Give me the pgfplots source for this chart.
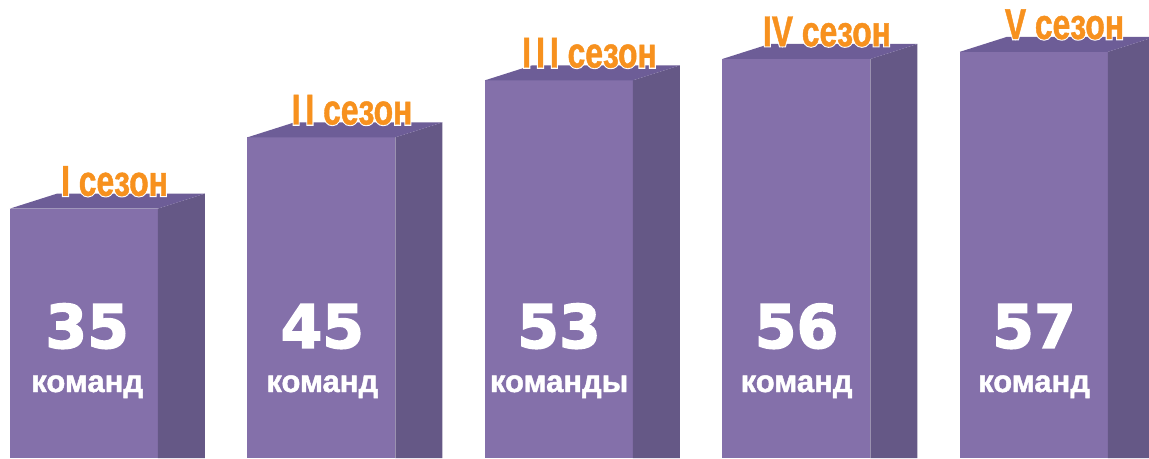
\documentclass[border=0pt]{standalone}
\usepackage{pgfplots}
\pgfplotsset{compat=1.18}
\usepackage{fontspec}
\setmainfont{DejaVu Sans}
\newfontfamily\numfont{DejaVu Sans}[UprightFont={* Bold}, FakeBold=2.5]
\newfontfamily\wordfont{Liberation Sans}[UprightFont={* Bold}, FakeBold=1.5]
\newfontfamily\labfont{Liberation Sans}[UprightFont={* Bold}, FakeStretch=0.74, FakeBold=1]
\newfontfamily\halofont{Liberation Sans}[UprightFont={* Bold}, FakeStretch=0.74, FakeBold=6]
\definecolor{front}{HTML}{8470AA}
\definecolor{side}{HTML}{655886}
\definecolor{topf}{HTML}{6D5D97}
\definecolor{lab}{HTML}{F7911E}
\newcommand{\seas}[3]{%
  \node[anchor=base, text=white, inner sep=0pt] at (axis cs:#1,#2) {\fontsize{43}{43}\halofont #3};
  \node[anchor=base, text=lab, inner sep=0pt] at (axis cs:#1,#2) {\fontsize{43}{43}\labfont #3};}
\newcommand{\num}[3]{%
  \node[anchor=base, text=white, inner sep=0pt] at (axis cs:#1,15.44) {\fontsize{60}{60}\numfont #2};
  \node[anchor=base, text=white, inner sep=0pt] at (axis cs:#1,9.26) {\fontsize{31}{31}\wordfont #3};}
\begin{document}
\begin{tikzpicture}
\begin{axis}[
  width=1149pt, height=458pt, scale only axis,
  hide axis, xmin=-0.0421, xmax=4.796, ymin=0, ymax=64.27,
  clip=true,
]
% bar 1 : 35
\addplot[fill=front, draw=none] coordinates {(0,0) (0.623,0) (0.623,35) (0,35)};
\addplot[fill=side, draw=none] coordinates {(0.623,0) (0.821,0) (0.821,37.1) (0.623,35)};
\addplot[fill=topf, draw=none] coordinates {(0,35) (0.623,35) (0.821,37.1) (0.198,37.1)};
% bar 2 : 45
\addplot[fill=front, draw=none] coordinates {(1,0) (1.623,0) (1.623,45) (1,45)};
\addplot[fill=side, draw=none] coordinates {(1.623,0) (1.821,0) (1.821,47.1) (1.623,45)};
\addplot[fill=topf, draw=none] coordinates {(1,45) (1.623,45) (1.821,47.1) (1.198,47.1)};
% bar 3 : 53
\addplot[fill=front, draw=none] coordinates {(2,0) (2.623,0) (2.623,53) (2,53)};
\addplot[fill=side, draw=none] coordinates {(2.623,0) (2.821,0) (2.821,55.1) (2.623,53)};
\addplot[fill=topf, draw=none] coordinates {(2,53) (2.623,53) (2.821,55.1) (2.198,55.1)};
% bar 4 : 56
\addplot[fill=front, draw=none] coordinates {(3,0) (3.623,0) (3.623,56) (3,56)};
\addplot[fill=side, draw=none] coordinates {(3.623,0) (3.821,0) (3.821,58.1) (3.623,56)};
\addplot[fill=topf, draw=none] coordinates {(3,56) (3.623,56) (3.821,58.1) (3.198,58.1)};
% bar 5 : 57
\addplot[fill=front, draw=none] coordinates {(4,0) (4.623,0) (4.623,57) (4,57)};
\addplot[fill=side, draw=none] coordinates {(4.623,0) (4.821,0) (4.821,59.1) (4.623,57)};
\addplot[fill=topf, draw=none] coordinates {(4,57) (4.623,57) (4.821,59.1) (4.198,59.1)};
\seas{0.44}{36.8}{I сезон}
\seas{1.44}{46.8}{I\kern5pt I сезон}
\seas{2.44}{54.8}{I\kern5pt I\kern5pt I сезон}
\seas{3.44}{57.8}{IV сезон}
\seas{4.44}{58.8}{V сезон}
\num{0.325}{35}{команд}
\num{1.315}{45}{команд}
\num{2.312}{53}{команды}
\num{3.312}{56}{команд}
\num{4.312}{57}{команд}
\end{axis}
\pgfresetboundingbox
\useasboundingbox (current axis.south west) rectangle (current axis.north east);
\end{tikzpicture}
\end{document}
